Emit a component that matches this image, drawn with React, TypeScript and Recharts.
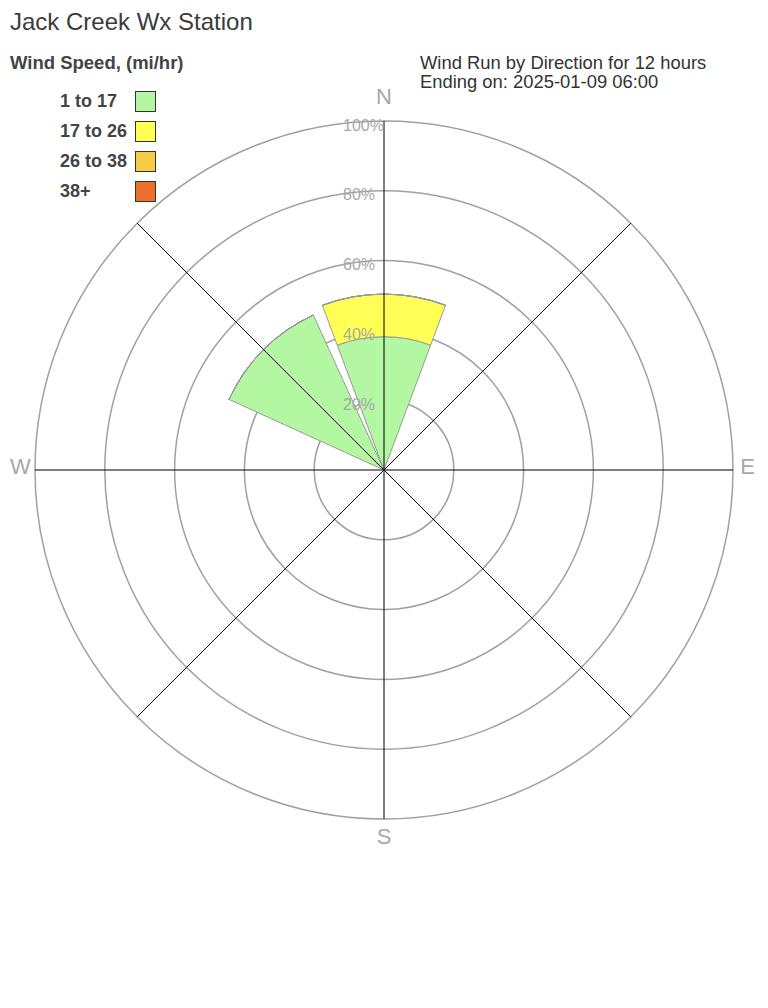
import React from "react";
import {
  RadialBarChart,
  RadialBar,
  PolarGrid,
  PolarAngleAxis,
  PolarRadiusAxis,
} from "recharts";

// Wind run share (%) per direction, stacked by speed bin
const directions = ["N", "NE", "E", "SE", "S", "SW", "W", "NW"];
const speed1to17 = [38.2, 0, 0, 0, 0, 0, 0, 48.8];
const speed17to26 = [12.2, 0, 0, 0, 0, 0, 0, 0];
const speed26to38 = [0, 0, 0, 0, 0, 0, 0, 0];
const speed38plus = [0, 0, 0, 0, 0, 0, 0, 0];

const binLabels = ["1 to 17", "17 to 26", "26 to 38", "38+"];
const binKeys = ["s1", "s2", "s3", "s4"];
const binColors = ["#b3f7a3", "#ffff55", "#f7cd45", "#ee6e2e"];

const percentTicks = [0, 20, 40, 60, 80, 100];
const compassLabels = ["N", "E", "S", "W"];

const data = directions.map((dir, i) => ({
  dir,
  s1: speed1to17[i],
  s2: speed17to26[i],
  s3: speed26to38[i],
  s4: speed38plus[i],
}));

const FONT = "'Liberation Sans', Arial, Helvetica, sans-serif";
const W = 768;
const H = 1008;
const CX = 384;
const CY = 470;
const R = 349;

// Only the four cardinal points get a label, pushed out past the rim
const CompassTick = (props: any) => {
  const { x, y, payload } = props;
  if (!compassLabels.includes(payload.value)) return <g />;
  const rad = (payload.coordinate * Math.PI) / 180;
  const ux = Math.cos(rad);
  const uy = -Math.sin(rad);
  const extra = 13.5 + 6.5 * Math.abs(uy);
  return (
    <text
      x={x + ux * extra}
      y={y + uy * extra - 4}
      textAnchor="middle"
      dominantBaseline="central"
      fill="#a8a8a8"
      fontSize={22}
      fontFamily={FONT}
    >
      {payload.value}
    </text>
  );
};

const PercentTick = (props: any) => {
  const { x, y, payload } = props;
  if (payload.value === 0) return <g />;
  return (
    <text
      x={x - 41}
      y={y + 4}
      textAnchor="start"
      dominantBaseline="central"
      fill="#a8a8a8"
      fontSize={16}
      fontFamily={FONT}
    >
      {payload.value}%
    </text>
  );
};

export default function App() {
  return (
    <div
      style={{
        position: "relative",
        width: W,
        height: H,
        margin: "-8px 0 0 -8px",
        fontFamily: FONT,
        background: "#fff",
      }}
    >
      {/* rings + wedges: bars sit on [tick, tick + band], so rotate back half a band */}
      <RadialBarChart
        width={W}
        height={H}
        cx={CX}
        cy={CY}
        innerRadius={0}
        outerRadius={R}
        startAngle={67.5}
        endAngle={-292.5}
        layout="centric"
        data={data}
        barCategoryGap="4.5%"
        margin={{ top: 0, right: 0, bottom: 0, left: 0 }}
      >
        <PolarGrid
          gridType="circle"
          radialLines={false}
          stroke="#a0a0a0"
          strokeWidth={1.5}
        />
        <PolarAngleAxis type="category" dataKey="dir" axisLine={false} tickLine={false} tick={false} />
        <PolarRadiusAxis type="number" angle={90} domain={[0, 100]} ticks={percentTicks} axisLine={false} tickLine={false} tick={false} />
        {binKeys.map((k, i) => (
          <RadialBar
            key={k}
            dataKey={k}
            stackId="wind"
            fill={binColors[i]}
            stroke="#999999"
            strokeWidth={1}
            isAnimationActive={false}
          />
        ))}
      </RadialBarChart>

      {/* spokes and labels on top */}
      <div style={{ position: "absolute", left: 0, top: 0, pointerEvents: "none" }}>
        <RadialBarChart
          width={W}
          height={H}
          cx={CX}
          cy={CY}
          innerRadius={0}
          outerRadius={R}
          startAngle={90}
          endAngle={-270}
          layout="centric"
          data={data}
          margin={{ top: 0, right: 0, bottom: 0, left: 0 }}
        >
          <PolarGrid gridType="circle" polarRadius={[]} stroke="#000000" strokeWidth={1} />
          <PolarAngleAxis
            type="category"
            dataKey="dir"
            axisLine={false}
            tickLine={false}
            tickSize={1}
            tick={<CompassTick />}
          />
          <PolarRadiusAxis
            type="number"
            angle={90}
            domain={[0, 100]}
            ticks={percentTicks}
            axisLine={false}
            tickLine={false}
            tick={<PercentTick />}
          />
          {/* invisible series so the radius axis gets its domain */}
          <RadialBar dataKey="s1" fill="none" stroke="none" isAnimationActive={false} />
        </RadialBarChart>
      </div>

      <div style={{ position: "absolute", left: 10, top: 9, fontSize: 24, color: "#3c3c3c", lineHeight: "26px" }}>
        Jack Creek Wx Station
      </div>
      <div style={{ position: "absolute", left: 10, top: 52, fontSize: 18.5, fontWeight: "bold", color: "#444", lineHeight: "22px" }}>
        Wind Speed, (mi/hr)
      </div>
      {binLabels.map((label, i) => (
        <div key={label} style={{ position: "absolute", left: 60, top: 90 + i * 30, height: 22, display: "flex", alignItems: "center" }}>
          <span style={{ width: 75, fontSize: 18, fontWeight: "bold", color: "#444" }}>{label}</span>
          <span style={{ width: 19, height: 19, background: binColors[i], border: "1px solid #333", display: "inline-block" }} />
        </div>
      ))}
      <div style={{ position: "absolute", left: 420, top: 53, fontSize: 18.4, color: "#333", lineHeight: "19px" }}>
        Wind Run by Direction for 12 hours
        <br />
        Ending on: 2025-01-09 06:00
      </div>
    </div>
  );
}
